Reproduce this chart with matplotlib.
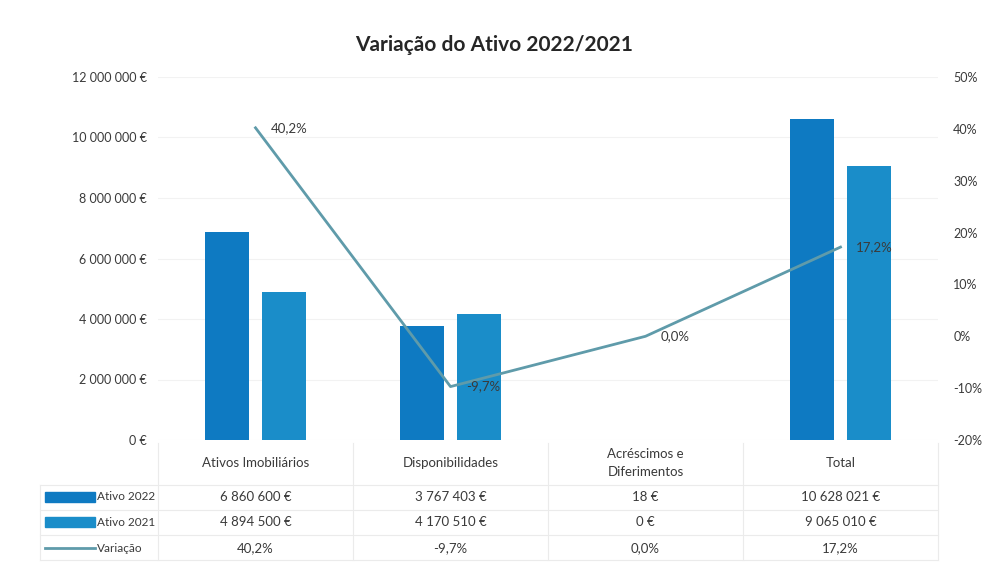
import matplotlib
matplotlib.use("Agg")
import matplotlib.pyplot as plt
import matplotlib.transforms as mtransforms
from matplotlib.patches import Rectangle
from matplotlib.lines import Line2D
import numpy as np

categories = ["Ativos Imobiliários", "Disponibilidades", "Acréscimos e\nDiferimentos", "Total"]
ativo_2022 = [6860600, 3767403, 18, 10628021]
ativo_2021 = [4894500, 4170510, 0, 9065010]
variacao = [0.402, -0.097, 0.0, 0.172]
series_names = ["Ativo 2022", "Ativo 2021", "Variação"]
left_ticks = [0, 2000000, 4000000, 6000000, 8000000, 10000000, 12000000]
right_ticks = [-0.2, -0.1, 0.0, 0.1, 0.2, 0.3, 0.4, 0.5]

c2022 = "#0E7AC2"
c2021 = "#1A8DC9"
cline = "#5F9BAA"
tcol = "#3A3A3A"

plt.rcParams['font.family'] = ['Lato', 'DejaVu Sans']

W, H = 989, 563
fig = plt.figure(figsize=(W / 100, H / 100), dpi=100)
ax = fig.add_axes([158 / W, 1 - 440 / H, 780 / W, 363 / H])
ax2 = ax.twinx()

def eur(v):
    s = f"{int(round(v)):,}".replace(",", " ")
    return s + " €"

def pct(v):
    return f"{v * 100:.1f}%".replace(".", ",")

def pct0(v):
    return f"{v * 100:.0f}%"

x = np.arange(len(categories))
bw = 0.225
off = 0.146
ax.bar(x - off, ativo_2022, width=bw, color=c2022, zorder=2)
ax.bar(x + off, ativo_2021, width=bw, color=c2021, zorder=2)
ax.set_xlim(-0.5, len(categories) - 0.5)
ax.set_ylim(left_ticks[0], left_ticks[-1])
ax.set_yticks(left_ticks)
ax.set_yticklabels([eur(v) for v in left_ticks], fontsize=9, color=tcol)
ax.grid(axis='y', color="#F2F2F2", lw=0.8, zorder=0)
ax.set_axisbelow(True)
ax.set_xticks([])
ax.tick_params(axis='y', length=0, pad=8)

ax2.plot(x, variacao, color=cline, lw=2, zorder=3)
ax2.set_ylim(right_ticks[0], right_ticks[-1])
ax2.set_yticks(right_ticks)
ax2.set_yticklabels([pct0(v) for v in right_ticks], fontsize=9, color=tcol)
ax2.tick_params(axis='y', length=0, pad=11)
for xi, v in zip(x, variacao):
    ax2.annotate(pct(v), (xi, v), xytext=(11, 0), textcoords='offset points',
                 ha='left', va='center', fontsize=9.5, color=tcol)

for a in (ax, ax2):
    for s in a.spines.values():
        s.set_visible(False)

fig.text(0.5, 1 - 45 / H, "Variação do Ativo 2022/2021", ha='center', va='center',
         fontsize=15, fontweight='bold', color="#262626")

# data table
bt = mtransforms.blended_transform_factory(ax.transData, fig.transFigure)
ft = fig.transFigure
def py(y):
    return 1 - y / H

linec = "#EBEBEB"
for b in np.arange(len(categories) + 1) - 0.5:
    fig.add_artist(Line2D([b, b], [py(443), py(560)], transform=bt, color=linec, lw=0.8))
for yy in [485, 510, 535, 560]:
    fig.add_artist(Line2D([40 / W, 938 / W], [py(yy), py(yy)], transform=ft, color=linec, lw=0.8))
fig.add_artist(Line2D([40 / W, 40 / W], [py(485), py(560)], transform=ft, color=linec, lw=0.8))

for xi, c in zip(x, categories):
    fig.text(xi, py(463), c, transform=bt, ha='center', va='center', fontsize=9.5,
             color=tcol, linespacing=1.5)

row_y = [497, 522, 548]
rows = [[eur(v) for v in ativo_2022], [eur(v) for v in ativo_2021], [pct(v) for v in variacao]]
for ry, vals in zip(row_y, rows):
    for xi, s in zip(x, vals):
        fig.text(xi, py(ry), s, transform=bt, ha='center', va='center', fontsize=9.5, color=tcol)

# legend keys
fig.add_artist(Rectangle((45 / W, py(502)), 50 / W, 10 / H, transform=ft, color=c2022))
fig.add_artist(Rectangle((45 / W, py(527)), 50 / W, 10 / H, transform=ft, color=c2021))
fig.add_artist(Line2D([45 / W, 95 / W], [py(548), py(548)], transform=ft, color=cline, lw=2))
for ry, nm in zip(row_y, series_names):
    fig.text(97 / W, py(ry), nm, transform=ft, ha='left', va='center', fontsize=8.5, color=tcol)

fig.savefig("out.png", dpi=100, facecolor="white")
